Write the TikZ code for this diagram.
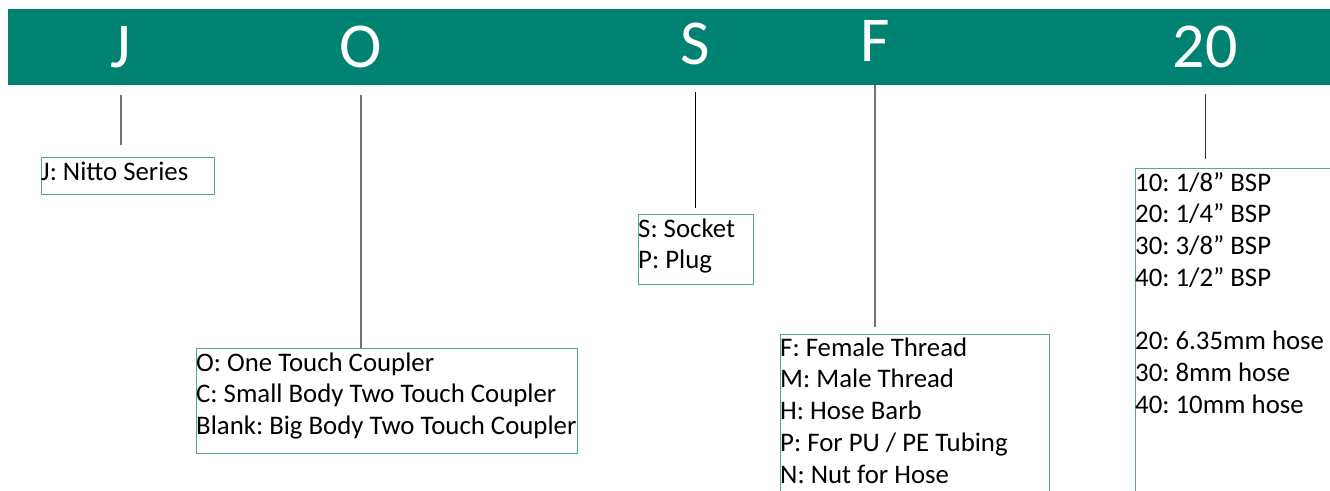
\documentclass[tikz,border=0pt]{standalone}
\usepackage{fontspec}
\setmainfont{Carlito}
\usetikzlibrary{calc}
\definecolor{barteal}{RGB}{0,130,114}
\definecolor{boxteal}{RGB}{80,168,155}
\definecolor{leadgray}{RGB}{115,115,115}
\frenchspacing
\begin{document}
\begin{tikzpicture}[x=1pt,y=-1pt,
 code/.style={text=white,font=\fontsize{64}{70}\selectfont,inner sep=0pt,anchor=base},
 keybox/.style={draw=boxteal,line width=1.3pt,anchor=north west,inner sep=0pt},
 keytext/.style={anchor=north west,inner sep=0pt,align=left,font=\fontsize{26.8}{31.7}\selectfont},
 lead/.style={draw=leadgray,line width=1.3pt}]
\useasboundingbox (0,0) rectangle (1330,490);
\clip (0,0) rectangle (1330,490);
\node[fill=barteal,minimum width=1340pt,minimum height=76pt,anchor=north west,inner sep=0pt] (bar) at (8,9) {};
\node[code] (ltrJ) at (121,67) {J};
\node[code] (ltrO) at (361,67) {O};
\node[code] (ltrS) at (695,64) {S};
\node[code] (ltrF) at (875,61) {F};
\node[code] (ltrN) at (1205,67) {20};

\node[keybox,minimum width=173pt,minimum height=37pt] (boxJ) at (41,157) {};
\node[keytext] (txtJ) at ($(boxJ.north west)+(0,3)$) {\rule{0pt}{20pt}J: Nitto Series};
\node[keybox,minimum width=381pt,minimum height=105pt] (boxO) at (196,348) {};
\node[keytext] (txtO) at ($(boxO.north west)+(0,3)$)
 {\rule{0pt}{20pt}O: One Touch Coupler\\C: Small Body Two Touch Coupler\\Blank: Big Body Two Touch Coupler};
\node[keybox,minimum width=115pt,minimum height=70pt] (boxS) at (638,214) {};
\node[keytext] (txtS) at ($(boxS.north west)+(0,3)$) {\rule{0pt}{20pt}S: Socket\\P: Plug};
\node[keybox,minimum width=269pt,minimum height=180pt] (boxF) at (780,334) {};
\node[keytext] (txtF) at ($(boxF.north west)+(0,2)$)
 {\rule{0pt}{20pt}F: Female Thread\\M: Male Thread\\H: Hose Barb\\P: For PU / PE Tubing\\N: Nut for Hose};
\node[keybox,minimum width=220pt,minimum height=340pt] (boxN) at (1135,168) {};
\node[keytext] (txtN) at ($(boxN.north west)+(0,3)$)
 {\rule{0pt}{20pt}10: 1/8” BSP\\20: 1/4” BSP\\30: 3/8” BSP\\40: 1/2” BSP\\[31.7pt]20: 6.35mm hose\\30: 8mm hose\\40: 10mm hose};

\draw[lead] ($(bar.south -| ltrJ)+(0,10)$) -- ($(boxJ.north -| ltrJ)+(0,-12)$);
\draw[lead] ($(bar.south -| ltrO)+(0,10)$) -- (boxO.north -| ltrO);
\draw[lead,draw=black,line width=1pt] ($(bar.south -| ltrS)+(0,7)$) -- ($(boxS.north -| ltrS)+(0,-6)$);
\draw[lead] (bar.south -| ltrF) -- ($(boxF.north -| ltrF)+(0,-7)$);
\draw[lead,draw=black!80,line width=1pt] ($(bar.south -| ltrN)+(0,9)$) -- ($(boxN.north -| ltrN)+(0,-9)$);
\end{tikzpicture}
\end{document}
